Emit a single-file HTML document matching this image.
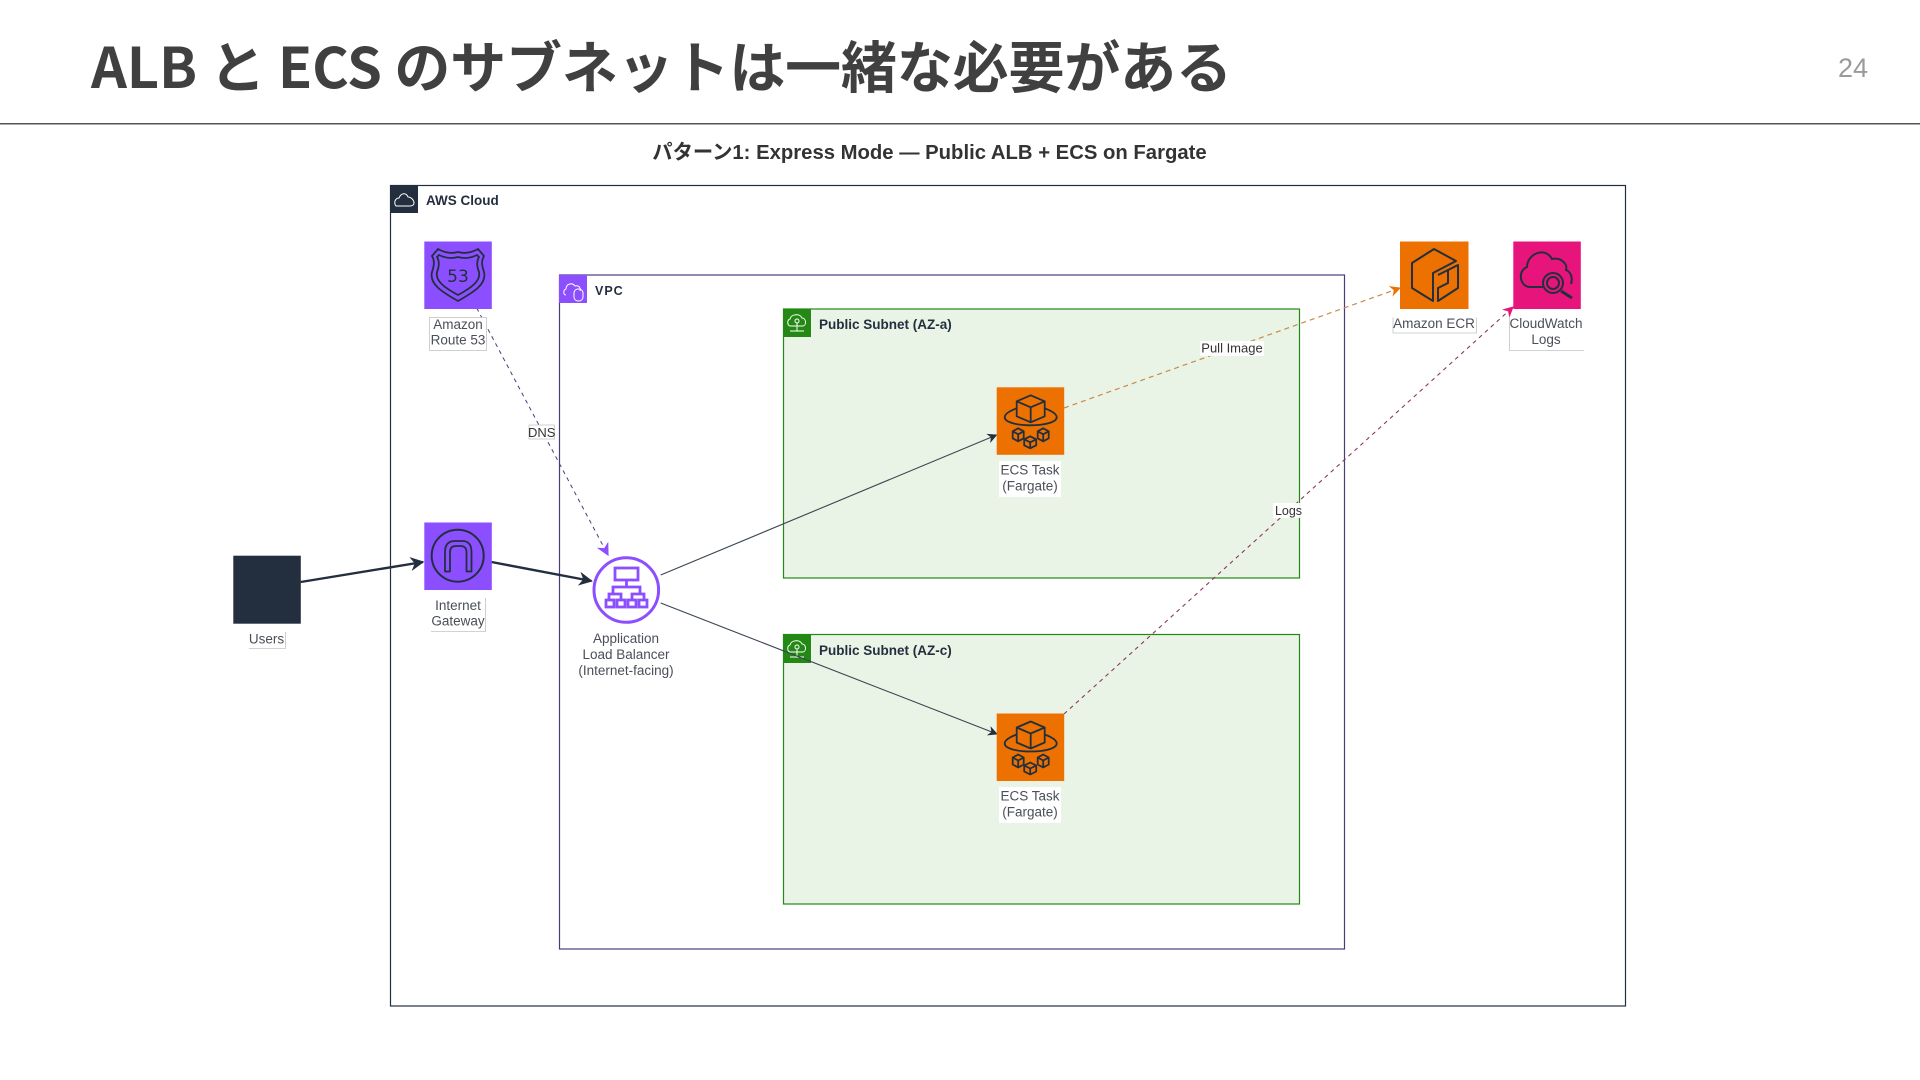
<!DOCTYPE html>
<html><head><meta charset="utf-8"><style>
html,body{margin:0;padding:0;background:#fff;width:1920px;height:1080px;overflow:hidden}
svg{display:block;position:absolute;left:0;top:0;filter:blur(.35px)}
.t{font-family:"Liberation Sans","Noto Sans CJK JP",sans-serif;font-size:13.5px;fill:#4a4f57;text-anchor:middle}
.g{font-family:"Liberation Sans",sans-serif;font-size:13.5px;font-weight:bold;fill:#232F3E}
.b{fill:#fff;stroke:#c4c4c4;stroke-width:.8}
</style></head><body>
<svg width="1920" height="1080" viewBox="0 0 1920 1080" xmlns="http://www.w3.org/2000/svg">
<defs>
<marker id="ad" viewBox="0 0 10 10" refX="9" refY="5" markerWidth="10" markerHeight="10" markerUnits="userSpaceOnUse" orient="auto"><path d="M0 0L10 5L0 10L3 5Z" fill="#232F3E"/></marker>
<marker id="adb" viewBox="0 0 10 10" refX="9" refY="5" markerWidth="14" markerHeight="14" markerUnits="userSpaceOnUse" orient="auto"><path d="M0 0L10 5L0 10L3 5Z" fill="#232F3E"/></marker>
<marker id="ap" viewBox="0 0 10 10" refX="9" refY="5" markerWidth="13" markerHeight="13" markerUnits="userSpaceOnUse" orient="auto"><path d="M0 0L10 5L0 10L3 5Z" fill="#8C4FFF"/></marker>
<marker id="ao" viewBox="0 0 10 10" refX="9" refY="5" markerWidth="11" markerHeight="11" markerUnits="userSpaceOnUse" orient="auto"><path d="M0 0L10 5L0 10L3 5Z" fill="#ED7100"/></marker>
<marker id="ak" viewBox="0 0 10 10" refX="9" refY="5" markerWidth="11" markerHeight="11" markerUnits="userSpaceOnUse" orient="auto"><path d="M0 0L10 5L0 10L3 5Z" fill="#E7157B"/></marker>
<g id="ecs" fill="none" stroke="#232F3E" stroke-width="1.8" stroke-linejoin="round">
<path d="M34 8L48 14V29L34 35L20 29V14Z M20 14L34 20L48 14 M34 20V35"/>
<path d="M20 21C12 24 8 27 8 30C8 35 20 38 34 38C48 38 60 35 60 30C60 27 56 24 48 21"/>
<path d="M16 44L21.5 41L27 44V51L21.5 54L16 51Z M16 44L21.5 47L27 44 M21.5 47V54"/>
<path d="M27.5 52L33.500 49L39.500 52V58L33.500 61L27.500 58Z M27.500 52L33.500 55L39.500 52 M33.500 55V61"/>
<path d="M41 44L46.500 41L52 44V51L46.500 54L41 51Z M41 44L46.500 47L52 44 M46.500 47V54"/>
</g>
</defs>
<rect width="1920" height="1080" fill="#fff"/>
<text x="91" y="88" font-family="'Noto Sans CJK JP',sans-serif" font-size="56" font-weight="700" fill="#404040" textLength="1141" lengthAdjust="spacing">ALB と ECS のサブネットは一緒な必要がある</text>
<rect x="0" y="123" width="1920" height="1.5" fill="#555"/>
<text x="1853" y="77" text-anchor="middle" font-family="'Liberation Sans',sans-serif" font-size="27" fill="#9a9a9a">24</text>
<text x="929.500" y="159" text-anchor="middle" font-family="'Liberation Sans','Noto Sans CJK JP',sans-serif" font-size="20.300" font-weight="bold" fill="#333">パターン1: Express Mode — Public ALB + ECS on Fargate</text>

<!-- AWS Cloud -->
<rect x="390.5" y="185.5" width="1235" height="820.5" fill="#fff" stroke="#232F3E" stroke-width="1.2"/>
<rect x="390" y="185" width="28" height="28" fill="#232F3E"/>
<path d="M396 206C393 202 396 198 399 198C401 193 406 192 408 197C411 197 414 200 414 203C414 205 412 206 410 206Z" fill="none" stroke="#fff" stroke-width="1"/>
<text class="g" x="426" y="205">AWS Cloud</text>

<!-- VPC -->
<rect x="559.5" y="275" width="785" height="674" fill="#fff" stroke="#4b3b7e" stroke-width="1.2"/>
<rect x="559" y="275" width="28" height="28" fill="#8C4FFF"/>
<path d="M566 295C563 295 563 290 566 289C566 284 572 282 575 286C578 285 581 287 580 291" fill="none" stroke="#fff" stroke-width="1"/>
<rect x="574" y="289" width="9" height="12" rx="4" fill="none" stroke="#fff" stroke-width="1"/>
<text class="g" x="595" y="295" style="font-size:12.5px;letter-spacing:1px">VPC</text>

<!-- Subnet A -->
<rect x="783.5" y="309" width="516" height="269" fill="#E9F3E6" stroke="#248814" stroke-width="1.2"/>
<rect x="783" y="309" width="28" height="28" fill="#248814"/>
<g fill="none" stroke="#fff" stroke-width="1"><path d="M790 326C787 325 787 320 790 319C791 314 800 313 802 318C806 318 807 325 803 326Z"/><circle cx="797" cy="321" r="2"/><path d="M797 323V331M790 331H804"/></g>
<text class="g" x="819" y="329" fill="#333">Public Subnet (AZ-a)</text>

<!-- Subnet C -->
<rect x="783.5" y="634.5" width="516" height="269.5" fill="#E9F3E6" stroke="#248814" stroke-width="1.2"/>
<rect x="783" y="635" width="28" height="28" fill="#248814"/>
<g fill="none" stroke="#fff" stroke-width="1"><path d="M790 652C787 651 787 646 790 645C791 640 800 639 802 644C806 644 807 651 803 652Z"/><circle cx="797" cy="647" r="2"/><path d="M797 649V657M790 657H804"/></g>
<text class="g" x="819" y="655" fill="#333">Public Subnet (AZ-c)</text>

<!-- Connectors -->
<line x1="300.7" y1="582" x2="423" y2="562" stroke="#232F3E" stroke-width="2.4" marker-end="url(#adb)"/>
<line x1="491.5" y1="562" x2="591.5" y2="581" stroke="#232F3E" stroke-width="2.4" marker-end="url(#adb)"/>
<line x1="660.7" y1="575" x2="996.5" y2="435" stroke="#3b4652" stroke-width="1.1" marker-end="url(#ad)"/>
<line x1="660.7" y1="603" x2="997" y2="734" stroke="#3b4652" stroke-width="1.1" marker-end="url(#ad)"/>
<line x1="476.7" y1="308" x2="608" y2="555" stroke="#4b3b7e" stroke-width="1" stroke-dasharray="4 4" marker-end="url(#ap)"/>
<line x1="1064" y1="408" x2="1400" y2="288" stroke="#c98a4a" stroke-width="1.2" stroke-dasharray="5 4" marker-end="url(#ao)"/>
<line x1="1064" y1="714" x2="1513" y2="307" stroke="#8a3a5e" stroke-width="1.1" stroke-dasharray="4 4" marker-end="url(#ak)"/>

<!-- Route 53 -->
<rect x="424.3" y="241.5" width="67.5" height="67.5" fill="#8C4FFF"/>
<path d="M458 252C451 254 445 253 438 249L432 256C435 261 434 266 432 272C429 284 442 292 458 301C474 292 487 284 484 272C482 266 481 261 484 256L478 249C471 253 465 254 458 252Z" fill="none" stroke="#232F3E" stroke-width="1.8"/>
<path d="M458 257C451 259 445 258 439 255L437 257C440 262 439 267 437 272C435 281 445 288 458 295C471 288 481 281 479 272C477 267 476 262 479 257L477 255C471 258 465 259 458 257Z" fill="none" stroke="#232F3E" stroke-width="1.8"/>
<text x="458" y="282" text-anchor="middle" font-family="'DejaVu Sans',sans-serif" font-size="17" fill="#232F3E">53</text>
<rect class="b" x="429.5" y="317.5" width="57" height="33"/>
<text class="t" x="458" y="329">Amazon</text><text class="t" x="458" y="344.5">Route 53</text>

<!-- IGW -->
<rect x="424.3" y="522.5" width="67.5" height="67.5" fill="#8C4FFF"/>
<circle cx="457.7" cy="555.7" r="26" fill="none" stroke="#232F3E" stroke-width="2"/>
<path d="M445 571.5V552C445 544 449 541 455 541H462C468 541 471.500 544 471.500 552V571.500H466.500V552C466.500 548 464 546 461 546H456C452 546 450 548 450 552V571.500Z" fill="none" stroke="#232F3E" stroke-width="1.8" stroke-linejoin="round"/>
<path d="M431 598H485.5V631.5H431" fill="#fff" stroke="none"/>
<path d="M431 631.5H485.5V598" fill="none" stroke="#c4c4c4" stroke-width=".8"/>
<text class="t" x="458" y="610">Internet</text><text class="t" x="458" y="625.5">Gateway</text>

<!-- Users -->
<rect x="233.3" y="555.7" width="67.5" height="68" fill="#232F3E"/>
<path d="M249 648.5H285.5V632" fill="none" stroke="#c4c4c4" stroke-width=".8"/>
<text class="t" x="266.5" y="643.5">Users</text>

<!-- ALB -->
<circle cx="626.3" cy="590" r="32.3" fill="#fff" stroke="#8C4FFF" stroke-width="3"/>
<g fill="none" stroke="#8C4FFF" stroke-width="2.8">
<rect x="615" y="568" width="23" height="12"/>
<path d="M626.5 580V587M613 593V587H640V593M609 600V594H621V600M632 600V594H644V600"/>
<rect x="606" y="600" width="8" height="7"/><rect x="617" y="600" width="8" height="7"/><rect x="628" y="600" width="8" height="7"/><rect x="639" y="600" width="8" height="7"/>
</g>
<text class="t" x="626" y="643">Application</text><text class="t" x="626" y="659">Load Balancer</text><text class="t" x="626" y="675">(Internet-facing)</text>

<!-- ECS A -->
<rect x="996.7" y="387.3" width="67.5" height="67.5" fill="#ED7100"/>
<use href="#ecs" x="996.7" y="387.3"/>
<rect x="999" y="461" width="62" height="36" fill="#fff"/>
<text class="t" x="1030" y="474.500">ECS Task</text><text class="t" x="1030" y="490.5">(Fargate)</text>

<!-- ECS C -->
<rect x="996.7" y="713.5" width="67.5" height="67.5" fill="#ED7100"/>
<use href="#ecs" x="996.7" y="713.5"/>
<rect x="999" y="787" width="62" height="36" fill="#fff"/>
<text class="t" x="1030" y="800.500">ECS Task</text><text class="t" x="1030" y="816.5">(Fargate)</text>

<!-- ECR -->
<rect x="1400" y="241.5" width="68.5" height="67.5" fill="#ED7100"/>
<g fill="none" stroke="#232F3E" stroke-width="2" stroke-linejoin="round"><path d="M1456 261L1433 273V301L1412 288V263L1434 249Z"/><path d="M1438 275L1458 265V288L1438 301V288L1448 283V270"/></g>
<path d="M1393 317.5V333H1476.5V317.5" fill="#fff" stroke="#c4c4c4" stroke-width=".8"/>
<text class="t" x="1434" y="328">Amazon ECR</text>

<!-- CloudWatch -->
<rect x="1513.3" y="241.5" width="67.5" height="67.5" fill="#E7157B"/>
<g fill="none" stroke="#232F3E" stroke-width="2"><path d="M1543 287H1530C1520 287 1517 271 1527 267C1527 254 1545 246 1552 259C1561 257 1568 264 1566 270C1571 272 1573 278 1571 284"/><circle cx="1553" cy="283" r="10"/><circle cx="1553" cy="283" r="6"/><path d="M1561 291L1572 298" stroke-width="3"/></g>
<path d="M1509.5 317.5V350.5H1584" fill="#fff" stroke="#c4c4c4" stroke-width=".8"/>
<text class="t" x="1546" y="328">CloudWatch</text><text class="t" x="1546" y="344">Logs</text>

<!-- Edge labels -->
<rect class="b" x="529" y="425" width="25.5" height="14"/>
<text class="t" x="541.7" y="437" style="font-size:13px;fill:#333">DNS</text>
<rect x="1200" y="341" width="64" height="15" fill="#fff" opacity=".9"/>
<text class="t" x="1232" y="352.5" style="font-size:13px;fill:#333">Pull Image</text>
<rect x="1273" y="503" width="30" height="15" fill="#fff" opacity=".9"/>
<text class="t" x="1288.5" y="515" style="font-size:12.5px;fill:#333">Logs</text>
</svg>
</body></html>
